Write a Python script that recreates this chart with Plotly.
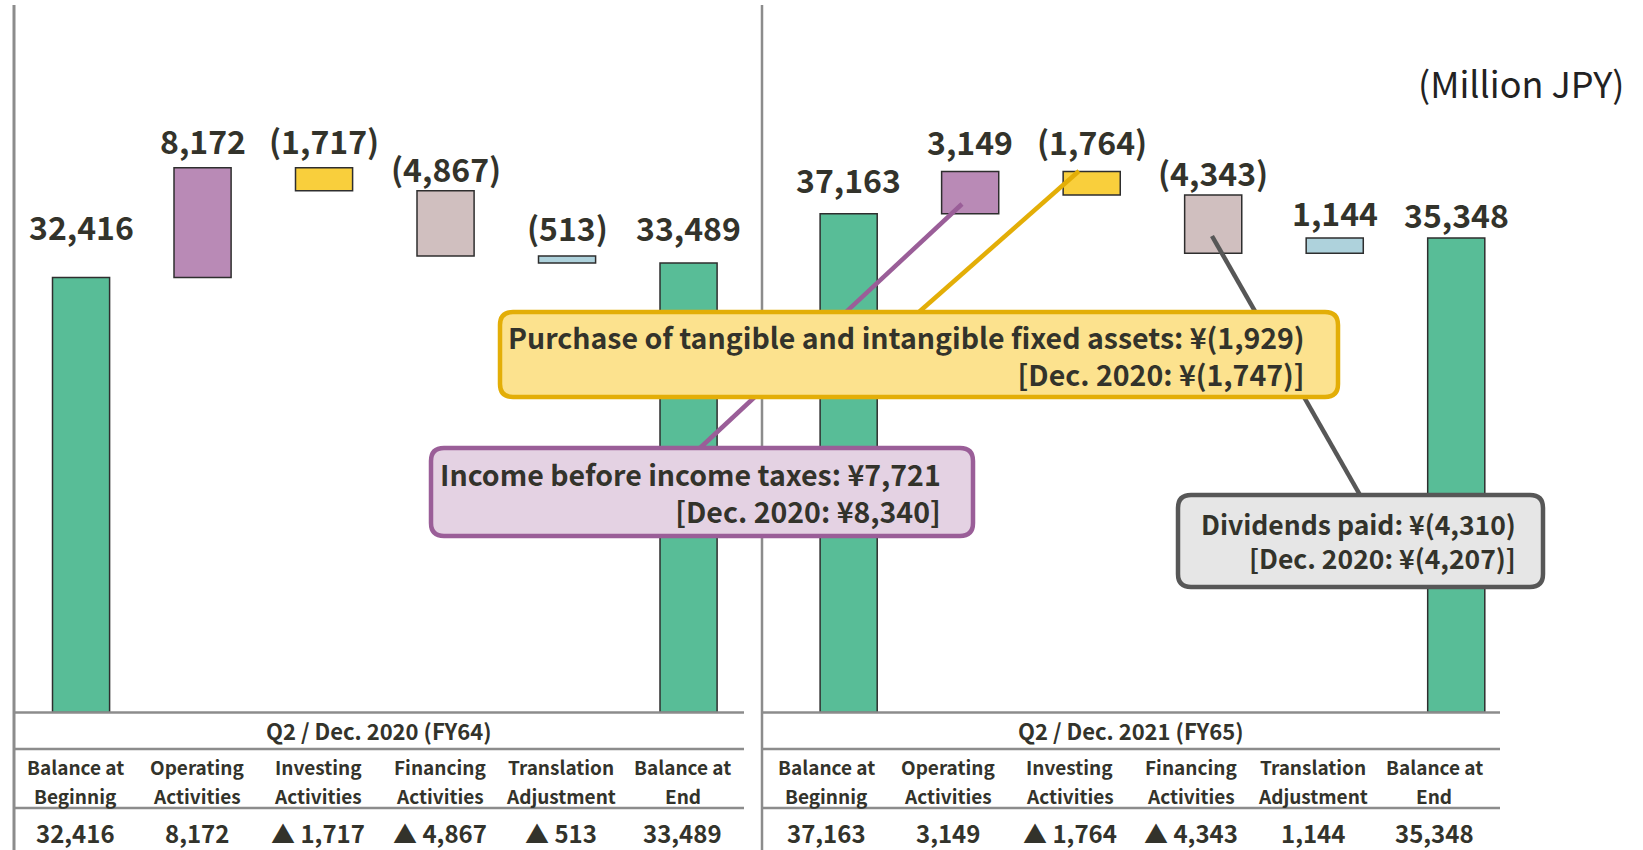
import plotly.graph_objects as go

# cash flow steps (line break marks the two-line header in the table)
steps = ["Balance at\nBeginnig", "Operating\nActivities", "Investing\nActivities",
         "Financing\nActivities", "Translation\nAdjustment", "Balance at\nEnd"]
fy64_values = [32416, 8172, -1717, -4867, -513, 33489]
fy65_values = [37163, 3149, -1764, -4343, 1144, 35348]
period_titles = ["Q2 / Dec. 2020 (FY64)", "Q2 / Dec. 2021 (FY65)"]
unit_label = "(Million JPY)"

callout_investing = ["Purchase of tangible and intangible fixed assets: ¥(1,929)", "[Dec. 2020: ¥(1,747)]"]
callout_income = ["Income before income taxes: ¥7,721", "[Dec. 2020: ¥8,340]"]
callout_dividends = ["Dividends paid: ¥(4,310)", "[Dec. 2020: ¥(4,207)]"]

bar_colors = ["#58BD97", "#B98AB6", "#F9CF3C", "#D0BFBF", "#AED2DC", "#58BD97"]
TEXT = "#33332B"
FONT = "Noto Sans CJK JP"
W, H = 1643, 850


def px(x):
    return x / W


def py(y):
    return 1 - y / H


def waterfall(values):
    bases, heights = [], []
    cum = 0
    for i, v in enumerate(values):
        if i == 0 or i == len(values) - 1:
            bases.append(0)
            heights.append(v)
            cum = v
        else:
            bases.append(cum if v > 0 else cum + v)
            heights.append(abs(v))
            cum += v
    return bases, heights


def bar_label(v, i, n):
    if i in (0, n - 1) or v > 0:
        return f"{v:,}"
    return f"({abs(v):,})"


def table_label(v):
    return f"{v:,}" if v > 0 else f"▲ {abs(v):,}"


fig = go.Figure()

panels = [
    dict(values=fy64_values, xaxis="x", title=period_titles[0],
         label_gap=[51, 28, 28, 23, 29, 36], table_shift=-6, table_mid=379),
    dict(values=fy65_values, xaxis="x2", title=period_titles[1],
         label_gap=[35, 30, 30, 23, 26, 24], table_shift=-22, table_mid=1131),
]

annotations = []
for p in panels:
    bases, heights = waterfall(p["values"])
    xs = list(range(len(steps)))
    fig.add_trace(go.Bar(
        x=xs, y=heights, base=bases, xaxis=p["xaxis"], yaxis="y",
        width=0.47,
        marker=dict(color=bar_colors, line=dict(color="#2E2E2E", width=1.5)),
        hoverinfo="skip", showlegend=False,
    ))
    n = len(steps)
    for i, v in enumerate(p["values"]):
        annotations.append(dict(
            x=i, y=bases[i] + heights[i], xref=p["xaxis"], yref="y",
            text=bar_label(v, i, n), showarrow=False, yanchor="middle",
            yshift=p["label_gap"][i],
            font=dict(family=FONT, size=32, color=TEXT, weight="bold"),
        ))
        # table: header (two lines) and value
        head = steps[i].split("\n")
        for k, line in enumerate(head):
            annotations.append(dict(
                x=i, y=py(766 + 29 * k), xref=p["xaxis"], yref="paper",
                xshift=p["table_shift"], text=line, showarrow=False,
                yanchor="middle", xanchor="center",
                font=dict(family=FONT, size=19, color=TEXT, weight="bold"),
            ))
        annotations.append(dict(
            x=i, y=py(832), xref=p["xaxis"], yref="paper",
            xshift=p["table_shift"], text=table_label(v), showarrow=False,
            yanchor="middle", xanchor="center",
            font=dict(family=FONT, size=24, color=TEXT, weight="bold"),
        ))
    annotations.append(dict(
        x=px(p["table_mid"]), y=py(730), xref="paper", yref="paper",
        text=p["title"], showarrow=False, yanchor="middle", xanchor="center",
        font=dict(family=FONT, size=22, color=TEXT, weight="bold"),
    ))

annotations.append(dict(
    x=px(1626), y=py(82), xref="paper", yref="paper", xanchor="right",
    text=unit_label, showarrow=False, yanchor="middle",
    font=dict(family=FONT, size=36, color="#222222"),
))

shapes = []
# vertical frame lines
shapes.append(dict(type="line", xref="paper", yref="paper", x0=px(14), x1=px(14),
                   y0=py(5), y1=py(850), line=dict(color="#8C8C8C", width=3)))
shapes.append(dict(type="line", xref="paper", yref="paper", x0=px(762), x1=px(762),
                   y0=py(5), y1=py(850), line=dict(color="#8C8C8C", width=2.5)))
# table rules
for xa, xb in [(14, 744), (762, 1500)]:
    for yy in (712.5, 749, 808):
        shapes.append(dict(type="line", xref="paper", yref="paper", x0=px(xa), x1=px(xb),
                           y0=py(yy), y1=py(yy), line=dict(color="#8C8C8C", width=2.5)))


def rounded_box(x0, y0, x1, y1, r, fill, edge):
    path = (f"M {px(x0 + r)},{py(y0)} L {px(x1 - r)},{py(y0)} Q {px(x1)},{py(y0)} {px(x1)},{py(y0 + r)} "
            f"L {px(x1)},{py(y1 - r)} Q {px(x1)},{py(y1)} {px(x1 - r)},{py(y1)} "
            f"L {px(x0 + r)},{py(y1)} Q {px(x0)},{py(y1)} {px(x0)},{py(y1 - r)} "
            f"L {px(x0)},{py(y0 + r)} Q {px(x0)},{py(y0)} {px(x0 + r)},{py(y0)} Z")
    return dict(type="path", xref="paper", yref="paper", path=path,
                fillcolor=fill, line=dict(color=edge, width=4.5), layer="above")


callouts = [
    dict(lines=callout_income, box=(431, 448, 973, 536), right=943, mid=492,
         fill="#E4D2E3", edge="#9A5E98", leader=((962, 204), (700, 448)), size=28.5),
    dict(lines=callout_investing, box=(500, 312, 1338, 397), right=1307, mid=355,
         fill="#FCE28E", edge="#E3AE07", leader=((1079, 171), (919, 312)), size=28.5),
    dict(lines=callout_dividends, box=(1178, 495, 1543, 587), right=1518, mid=540,
         fill="#E6E6E6", edge="#575757", leader=((1212, 236), (1360, 495)), size=26.5),
]
for c in callouts:
    (ax0, ay0), (ax1, ay1) = c["leader"]
    shapes.append(dict(type="line", xref="paper", yref="paper",
                       x0=px(ax0), y0=py(ay0), x1=px(ax1), y1=py(ay1),
                       line=dict(color=c["edge"], width=4.5), layer="above"))
for c in callouts:
    shapes.append(rounded_box(*c["box"], 13, c["fill"], c["edge"]))
    annotations.append(dict(
        x=px(c["right"]), y=py(c["mid"]), xref="paper", yref="paper",
        xanchor="right", yanchor="middle", align="right",
        text="<br>".join(c["lines"]), showarrow=False,
        font=dict(family=FONT, size=c["size"], color=TEXT, weight="bold"),
    ))

fig.update_layout(
    width=W, height=H,
    margin=dict(l=0, r=0, t=0, b=0),
    paper_bgcolor="white", plot_bgcolor="white",
    xaxis=dict(domain=[px(20.3), px(749.3)], range=[-0.5, 5.5], visible=False),
    xaxis2=dict(domain=[px(787.9), px(1517)], range=[-0.5, 5.5], visible=False, anchor="y"),
    yaxis=dict(domain=[py(712.5), 1], range=[0, 53080], visible=False),
    barmode="overlay",
    shapes=shapes,
    annotations=annotations,
)

fig.write_html("out.html", config={"displayModeBar": False},
               post_script="document.body.style.margin='0';")
